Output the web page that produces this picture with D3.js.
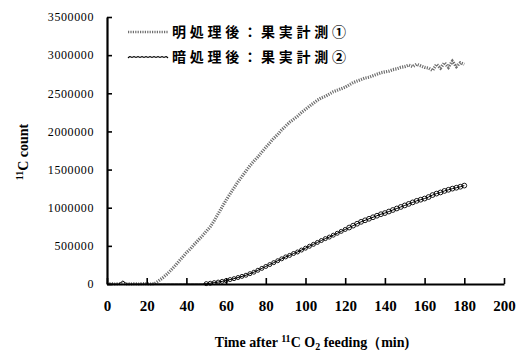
<!DOCTYPE html>
<html>
<head>
<meta charset="utf-8">
<script src="https://cdn.jsdelivr.net/npm/d3@7"></script>
<style>
  body { margin: 0; background: #fff; }
  svg { display: block; }
  .y-axis text { font-family: "Liberation Serif", serif; font-size: 12px; letter-spacing: 0.6px; }
  .x-axis text { font-family: "Liberation Serif", serif; font-size: 15px; font-weight: bold; }
  .axis-title { font-family: "Liberation Serif", serif; font-weight: bold; font-size: 14px; }
  .legend text { font-family: "Noto Sans CJK JP", sans-serif; font-weight: bold; font-size: 14px; }
</style>
</head>
<body>
<div id="chart"></div>
<script>
// Data (values in counts, time in minutes)
const times = d3.range(0, 181, 2);

// light treated: fruit measurement 1 (thousands)
const lightValues = [
    0, 5, 0, 3, 8, 2, 0, 4, 0, 6, 3, 0,
    5, 40, 80, 125, 175, 230, 290, 350, 410, 460, 520, 575, 630, 690,
    750, 830, 920, 1010, 1100, 1180, 1260, 1340, 1410, 1480, 1550, 1610, 1665, 1730,
    1790, 1850, 1910, 1960, 2020, 2070, 2120, 2160, 2200, 2250,
    2290, 2330, 2370, 2410, 2440, 2460, 2490, 2520, 2540, 2560,
    2580, 2610, 2640, 2660, 2680, 2700, 2710, 2730, 2750, 2770,
    2780, 2790, 2810, 2820, 2840, 2850, 2870, 2850, 2880, 2860,
    2840, 2830, 2800, 2880, 2830, 2900, 2840, 2920, 2850, 2900, 2880
];

// dark treated: fruit measurement 2 (thousands)
const darkValues = [
    0, 0, 0, 0, 40, 0, 0, 0, 0, 0, 0, 0,
    0, 0, 0, 0, 0, 0, 0, 0, 0, 0, 0, 0, 0,
    5, 10, 18, 25, 35, 45, 58, 70, 85, 100,
    115, 135, 155, 180, 205, 230, 255, 280, 305, 330,
    355, 375, 400, 420, 445, 470, 495, 520, 545, 570,
    595, 615, 640, 665, 690, 715, 740, 765, 790, 815,
    835, 855, 875, 895, 915, 930, 950, 970, 990, 1010,
    1030, 1050, 1070, 1090, 1105, 1120, 1140, 1166, 1185, 1200,
    1220, 1235, 1250, 1262, 1275, 1290
];

const seriesNames = ['明処理後：果実計測①', '暗処理後：果実計測②'];
const xTicks = d3.range(0, 201, 20);
const yTicks = d3.range(0, 3500001, 500000);

const chart = {
    totalWidth: 516,
    totalHeight: 354,
    margin: { top: 17, left: 107, right: 12, bottom: 70 }
};
chart.width = chart.totalWidth - chart.margin.left - chart.margin.right;
chart.height = chart.totalHeight - chart.margin.top - chart.margin.bottom;

const svg = d3.select('#chart')
    .append('svg')
    .attr('width', chart.totalWidth)
    .attr('height', chart.totalHeight);

const xScale = d3.scaleLinear().domain([0, 200]).range([0, chart.width]);
const yScale = d3.scaleLinear().domain([0, 3500000]).range([chart.height, 0]);

const g = svg.append('g')
    .attr('transform', `translate(${chart.margin.left}, ${chart.margin.top})`);

// Lines
const line = d3.line()
    .x(d => xScale(d.t))
    .y(d => yScale(d.v));

const lightData = times.map((t, i) => ({ t: t, v: lightValues[i] * 1000 }));
const darkData = times.map((t, i) => ({ t: t, v: darkValues[i] * 1000 }));

g.append('path')
    .attr('d', line(lightData))
    .attr('fill', 'none')
    .attr('stroke', '#6e6e6e')
    .attr('stroke-width', 3.2)
    .attr('stroke-dasharray', '1.2 1.2');

g.append('path')
    .attr('d', line(darkData))
    .attr('fill', 'none')
    .attr('stroke', '#000')
    .attr('stroke-width', 1);

g.append('g')
    .selectAll('circle')
    .data(darkData.filter(d => d.t >= 50))
    .enter()
    .append('circle')
    .attr('cx', d => xScale(d.t))
    .attr('cy', d => yScale(d.v))
    .attr('r', d => d.t > 120 ? 2.4 : 2)
    .attr('fill', 'none')
    .attr('stroke', '#000')
    .attr('stroke-width', 0.9);

// Axes
const yAxis = d3.axisLeft(yScale)
    .tickValues(yTicks)
    .tickFormat(d3.format('d'))
    .tickSize(-5)
    .tickSizeOuter(0)
    .tickPadding(13);

const yG = g.append('g').classed('y-axis', true).call(yAxis);

const xAxis = d3.axisBottom(xScale)
    .tickValues(xTicks)
    .tickSize(-6)
    .tickSizeOuter(0)
    .tickPadding(16);

const xG = g.append('g')
    .classed('x-axis', true)
    .attr('transform', `translate(0, ${chart.height})`)
    .call(xAxis);

[yG, xG].forEach(a => {
    a.select('.domain').attr('stroke-width', 2.2);
    a.selectAll('.tick line').attr('stroke-width', 1.6);
});

// Axis titles
const xTitle = svg.append('text')
    .classed('axis-title', true)
    .attr('x', 312)
    .attr('y', 347)
    .attr('text-anchor', 'middle');
xTitle.append('tspan').text('Time after ');
xTitle.append('tspan').attr('font-size', 10).attr('dy', -5).text('11');
xTitle.append('tspan').attr('dy', 5).text('C O');
xTitle.append('tspan').attr('font-size', 10).attr('dy', 3).text('2');
xTitle.append('tspan').attr('dy', -3).text(' feeding（min)');

const yTitle = svg.append('text')
    .classed('axis-title', true)
    .attr('transform', 'translate(28, 152) rotate(-90)')
    .attr('text-anchor', 'middle');
yTitle.append('tspan').attr('font-size', 10).attr('dy', -5).text('11');
yTitle.append('tspan').attr('dy', 5).text('C  count');

// Legend
const legend = svg.append('g').classed('legend', true);
legend.append('line')
    .attr('x1', 128).attr('x2', 168)
    .attr('y1', 32).attr('y2', 32)
    .attr('stroke', '#6e6e6e')
    .attr('stroke-width', 2.5)
    .attr('stroke-dasharray', '1.2 1.2');

// wavy sample for the dark series
const wave = d3.range(0, 41, 2).map((x, i) => [128 + x, 57 + (i % 2 ? -1 : 1)]);
legend.append('path')
    .attr('d', d3.line().curve(d3.curveBasis)(wave))
    .attr('fill', 'none')
    .attr('stroke', '#000')
    .attr('stroke-width', 1.2);

legend.selectAll('text')
    .data(seriesNames)
    .enter()
    .append('text')
    .attr('x', 172)
    .attr('y', (d, i) => 37 + i * 25)
    .attr('textLength', 174)
    .attr('lengthAdjust', 'spacing')
    .text(d => d);
</script>
</body>
</html>
